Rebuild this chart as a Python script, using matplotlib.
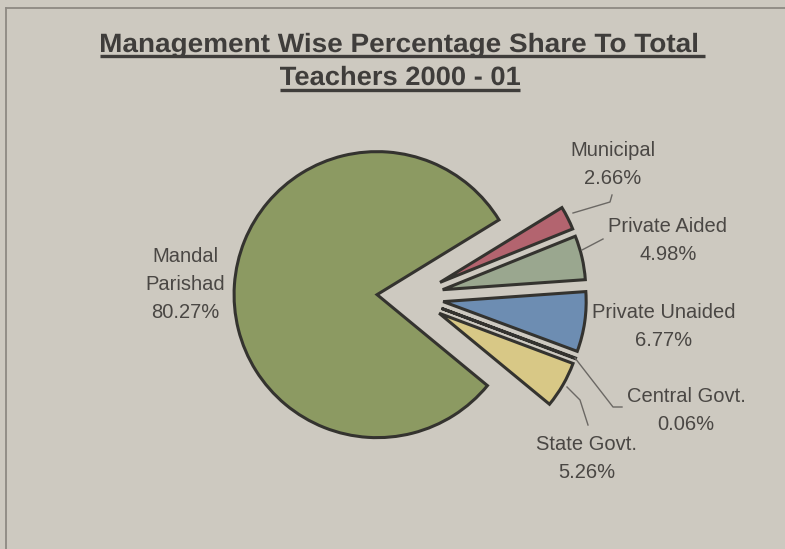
import matplotlib.pyplot as plt
from matplotlib.font_manager import FontProperties
from matplotlib.textpath import TextPath
from matplotlib.patches import PathPatch
from matplotlib.transforms import Affine2D

# teachers by management, 2000-01 (percent of total)
categories = ["Mandal\nParishad", "Municipal", "Private Aided", "Private Unaided",
              "Central Govt.", "State Govt."]
shares = [80.27, 2.66, 4.98, 6.77, 0.06, 5.26]
colors = ["#8c9a62", "#b3646f", "#9aa78f", "#6d8db2", "#8f86a6", "#d8c886"]

W, H = 785, 549
BG = "#cdc9c0"
INK = "#4a4744"
TITLE_INK = "#3f3d3b"
R = 143
# slice offsets in pixels (pie is drawn in pixel units)
explode = [34, 32.5, 32.5, 32.5, 32.5, 32.5]


def Y(y):
    # rows counted from the top
    return H - y


fig = plt.figure(figsize=(W / 100, H / 100), dpi=100, facecolor=BG)
ax = fig.add_axes([0, 0, 1, 1])
ax.set_facecolor(BG)

ax.pie(shares, colors=colors, explode=explode, startangle=-39.5,
       counterclock=False, center=(411, Y(297)), radius=R, frame=True,
       wedgeprops=dict(edgecolor="#34332f", linewidth=2.2))

ax.set_xlim(0, W)
ax.set_ylim(0, H)
ax.set_aspect("auto")
ax.axis("off")

# frame of the chart area
ax.plot([6, 6], [Y(549), Y(8)], color="#8d8983", lw=1.3)
ax.plot([6, W], [Y(8), Y(8)], color="#8d8983", lw=1.3)

# title: bold, fitted to its width, underlined
tprop = FontProperties(family="Liberation Sans", weight="bold")
title_lines = ["Management Wise Percentage Share To Total", "Teachers 2000 - 01"]
title_base = [52, 85]          # baseline rows
title_span = [(101, 697), (280, 520)]
under = [(56, 100, 705), (90, 280, 520)]
for s, base, (x0, x1) in zip(title_lines, title_base, title_span):
    tp = TextPath((0, 0), s, size=26.5, prop=tprop)
    ext = tp.get_extents()
    sx = (x1 - x0) / ext.width
    tr = Affine2D().translate(-ext.x0, 0).scale(sx, 1).translate(x0, Y(base))
    ax.add_patch(PathPatch(tr.transform_path(tp), facecolor=TITLE_INK,
                           edgecolor="none"))
for uy, x0, x1 in under:
    ax.plot([x0, x1], [Y(uy), Y(uy)], color=TITLE_INK, lw=2.4,
            solid_capstyle="butt")

# slice labels
label_pos = [(185, 284), (613, 164), (668, 241), (664, 327), (686, 410), (587, 459)]
for name, v, (lx, ly) in zip(categories, shares, label_pos):
    ax.text(lx, Y(ly), f"{name}\n{v:.2f}%", ha="center", va="center",
            fontsize=14.5, family="Liberation Sans", color=INK, linespacing=1.6)

# leader lines
leaders = [
    [(573, 213), (610, 202), (612, 195)],
    [(582, 250), (603, 239)],
    [(575, 358), (613, 407), (622, 407)],
    [(567, 387), (580, 400), (588, 425)],
]
for pts in leaders:
    xs = [p[0] for p in pts]
    ys = [Y(p[1]) for p in pts]
    ax.plot(xs, ys, color="#6b6864", lw=1.0)

fig.savefig("out.png", dpi=100, facecolor=BG)
